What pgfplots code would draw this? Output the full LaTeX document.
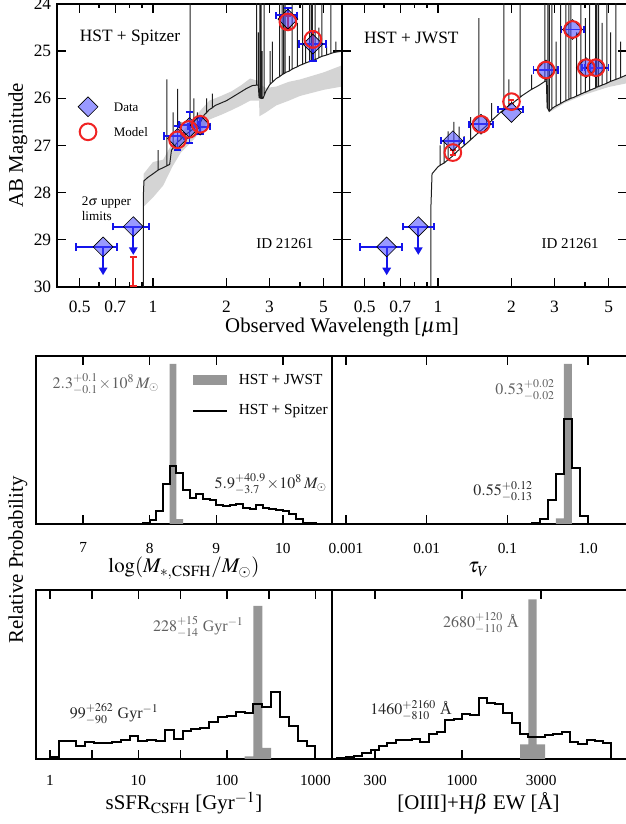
\documentclass[border=0pt]{standalone}
\usepackage{mathptmx}
\usepackage{fontspec}
\setmainfont{Liberation Serif}
\usepackage{pgfplots}
\pgfplotsset{compat=1.18}
\usetikzlibrary{arrows.meta}
\definecolor{specgray}{RGB}{212,212,212}
\definecolor{specline}{RGB}{30,30,30}
\definecolor{histgray}{RGB}{150,150,150}
\definecolor{datablue}{RGB}{20,20,235}
\definecolor{diafill}{RGB}{70,70,255}
\definecolor{modelred}{RGB}{240,35,35}
\definecolor{annogray}{RGB}{95,95,95}
\begin{document}
\begin{tikzpicture}
\useasboundingbox (0,0) rectangle (375pt,494.4pt);
% ================= top left: HST + Spitzer (x = log10 wavelength/um)
\begin{axis}[at={(34.2pt,322.2pt)}, anchor=south west,
  scale only axis, width=171pt, height=169.8pt,
  xmin=-0.3936, xmax=0.7745, ymin=24, ymax=30, y dir=reverse,
  xtick={-0.30103,-0.15490,0,0.30103,0.47712,0.69897}, xticklabels={0.5,0.7,1,2,3,5},
  minor xtick={-0.22185,-0.09691,-0.04576,0.60206},
  ytick={24,25,26,27,28,29,30},
  tick align=inside, major tick length=5.4pt, minor tick length=2.7pt,
  tick style={black, line width=0.8pt}, axis line style={line width=0.9pt},
  tick label style={font=\fontsize{10.4}{12}\selectfont},
  xticklabel style={yshift=-5pt},
  /pgf/number format/assume math mode=true]
\addplot[fill=specgray, draw=none] coordinates {
(-0.0386,27.6)(0,27.35)(0.0414,27.3)(0.0792,26.95)(0.1139,26.75)(0.1614,26.45)(0.2041,26.2)(0.2304,26.05)
(0.2788,25.95)(0.3222,25.85)(0.3617,25.72)(0.3979,25.58)(0.4232,25.62)(0.4346,25.62)(0.4362,25.7)(0.4624,25.78)
(0.5051,25.75)(0.5563,25.65)(0.6021,25.6)(0.6990,25.45)(0.7745,25.3)
(0.7745,25.75)(0.6990,25.82)(0.6021,25.95)(0.5563,26.05)(0.5051,26.15)(0.4624,26.3)(0.4362,26.38)(0.4346,26.05)
(0.3979,26.05)(0.3617,26.15)(0.3222,26.25)(0.2788,26.35)(0.2304,26.45)(0.2041,26.65)(0.1614,26.9)(0.1139,27.15)
(0.0792,27.45)(0.0414,27.85)(0,28.1)(-0.0386,28.3)};
\addplot[specline, line width=0.6pt] coordinates {
(-0.3936,35)(-0.0400,35)(-0.0400,28.1)(-0.0372,27.75)(-0.0223,27.68)(0,27.6)
(0.0212,27.52)(0.0212,27.1)(0.0212,27.52)(0.0414,27.47)(0.0569,27.43)(0.0569,25.6)(0.0569,27.43)
(0.0682,27.4)(0.0755,27.1)(0.0828,27.05)(0.0828,26.3)(0.0828,27.05)(0.0969,26.95)
(0.1004,26.93)(0.1004,25.8)(0.1004,26.93)(0.1139,26.87)(0.1139,26.5)(0.1139,26.87)(0.1303,26.78)
(0.1523,26.7)(0.1523,23.5)(0.1523,26.7)(0.1614,26.66)(0.1673,26.64)(0.1673,26.0)(0.1673,26.64)
(0.1818,26.58)(0.1818,26.3)(0.1818,26.58)(0.1903,26.55)(0.2095,26.35)(0.2201,26.3)(0.2201,26.0)(0.2201,26.3)
(0.2304,26.24)(0.2430,26.2)(0.2430,25.9)(0.2430,26.2)(0.2553,26.15)(0.3010,26.05)(0.3424,25.92)(0.3802,25.8)
(0.4065,25.73)(0.4249,25.72)(0.4249,23.5)(0.4249,25.72)(0.4281,25.72)(0.4314,25.72)(0.4314,24.6)(0.4314,25.72)
(0.4346,25.98)(0.4378,25.99)(0.4378,23.5)(0.4378,25.99)(0.4425,26.0)(0.4425,23.5)(0.4425,26.0)
(0.4472,26.0)(0.4472,25.0)(0.4472,26.0)(0.4502,26.0)(0.4548,25.95)(0.4548,23.5)(0.4548,25.95)
(0.4624,25.85)(0.4771,25.72)(0.4800,25.7)(0.4800,25.0)(0.4800,25.7)(0.4886,25.66)(0.4886,24.8)(0.4886,25.66)
(0.5051,25.58)(0.5185,25.54)(0.5185,23.5)(0.5185,25.54)(0.5289,25.5)(0.5289,23.5)(0.5289,25.5)
(0.5353,25.48)(0.5353,23.5)(0.5353,25.48)(0.5416,25.46)(0.5416,23.5)(0.5416,25.46)(0.5441,25.45)
(0.5587,25.42)(0.5587,25.1)(0.5587,25.42)(0.5705,25.38)(0.5705,23.5)(0.5705,25.38)
(0.5911,25.33)(0.5911,24.4)(0.5911,25.33)(0.6021,25.3)(0.6128,25.28)(0.6128,23.5)(0.6128,25.28)
(0.6253,25.25)(0.6253,24.9)(0.6253,25.25)(0.6415,25.22)(0.6415,23.5)(0.6415,25.22)
(0.6493,25.2)(0.6493,23.5)(0.6493,25.2)(0.6532,25.2)(0.6532,23.5)(0.6532,25.2)
(0.6646,25.18)(0.6646,23.5)(0.6646,25.18)(0.6794,25.14)(0.6794,24.5)(0.6794,25.14)
(0.6920,25.11)(0.6920,23.5)(0.6920,25.11)(0.6990,25.1)(0.7118,25.08)(0.7118,24.9)(0.7118,25.08)
(0.7284,25.05)(0.7284,23.5)(0.7284,25.05)(0.7404,25.03)(0.7497,25.02)(0.7497,24.8)(0.7497,25.02)(0.7745,25.0)};
% upper limits
\addplot[datablue, line width=1.1pt, -{Triangle[width=5pt,length=4.5pt]}] coordinates {(-0.2048,29.15)(-0.2048,29.75)};
\addplot[datablue, line width=1.1pt, -{Triangle[width=5pt,length=4.5pt]}] coordinates {(-0.0809,28.72)(-0.0809,29.32)};
\addplot[modelred, line width=1.1pt, {Bar[width=4pt]}-{Bar[width=4pt]}] coordinates {(-0.0809,29.34)(-0.0809,30.0)};
% data diamonds (incl. legend sample)
\addplot[only marks, mark=square*, mark size=4.2pt, mark options={rotate=45, fill=diafill, fill opacity=0.55, draw=none}]
  coordinates {(-0.2664,26.18)(-0.2048,29.15)(-0.0809,28.72)(0.1004,26.85)(0.1492,26.62)(0.1931,26.57)(0.5527,24.32)(0.6551,24.85)};
% error bars
\addplot[datablue, line width=1.1pt, {Bar[width=4.4pt]}-{Bar[width=4.4pt]}] coordinates {(-0.3188,29.15)(-0.1427,29.15)};
\addplot[datablue, line width=1.1pt, {Bar[width=4.4pt]}-{Bar[width=4.4pt]}] coordinates {(-0.1675,28.72)(-0.0132,28.72)};
\addplot[datablue, line width=1.1pt, {Bar[width=4.4pt]}-{Bar[width=4.4pt]}] coordinates {(0.0414,26.8)(0.1303,26.8)};
\addplot[datablue, line width=1.1pt, {Bar[width=4.4pt]}-{Bar[width=4.4pt]}] coordinates {(0.1004,26.56)(0.1004,27.12)};
\addplot[datablue, line width=1.1pt, {Bar[width=4.4pt]}-{Bar[width=4.4pt]}] coordinates {(0.1038,26.56)(0.1875,26.56)};
\addplot[datablue, line width=1.1pt, {Bar[width=4.4pt]}-{Bar[width=4.4pt]}] coordinates {(0.1492,26.27)(0.1492,26.97)};
\addplot[datablue, line width=1.1pt, {Bar[width=4.4pt]}-{Bar[width=4.4pt]}] coordinates {(0.1399,26.6)(0.2380,26.6)};
\addplot[datablue, line width=1.1pt, {Bar[width=4.4pt]}-{Bar[width=4.4pt]}] coordinates {(0.1931,26.4)(0.1931,26.78)};
\addplot[datablue, line width=1.1pt, {Bar[width=4.4pt]}-{Bar[width=4.4pt]}] coordinates {(0.4997,24.24)(0.5944,24.24)};
\addplot[datablue, line width=1.1pt, {Bar[width=4.4pt]}-{Bar[width=4.4pt]}] coordinates {(0.5527,24.07)(0.5527,24.54)};
\addplot[datablue, line width=1.1pt, {Bar[width=4.4pt]}-{Bar[width=4.4pt]}] coordinates {(0.5944,24.85)(0.7118,24.85)};
\addplot[datablue, line width=1.1pt, {Bar[width=4.4pt]}-{Bar[width=4.4pt]}] coordinates {(0.6551,24.58)(0.6551,25.23)};
\addplot[modelred, line width=1.1pt, {Bar[width=3.6pt]}-{Bar[width=3.6pt]}] coordinates {(0.5527,24.23)(0.5527,24.53)};
\addplot[modelred, line width=1.1pt, {Bar[width=3.6pt]}-{Bar[width=3.6pt]}] coordinates {(0.6551,24.55)(0.6551,24.95)};
% model circles (incl. legend sample)
\addplot[only marks, mark=o, mark size=5pt, mark options={draw=modelred, line width=1.2pt}]
  coordinates {(-0.2664,26.71)(0.1004,26.88)(0.1461,26.66)(0.1931,26.55)(0.5527,24.38)(0.6551,24.75)};
\node[font=\fontsize{7.8}{9.5}\selectfont, anchor=west] at (axis cs:-0.1844,26.18) {Data};
\node[font=\fontsize{7.8}{9.5}\selectfont, anchor=west] at (axis cs:-0.1844,26.71) {Model};
\node[font=\fontsize{10.4}{12}\selectfont] at (axis cs:-0.0942,24.71) {HST + Spitzer};
\node[font=\fontsize{7.9}{9.5}\selectfont, anchor=west, align=left] at (axis cs:-0.316,28.34) {2$\sigma$ upper\\limits};
\node[font=\fontsize{9}{11}\selectfont] at (axis cs:0.5403,29.08) {ID 21261};
\end{axis}
% ================= top right: HST + JWST
\begin{axis}[at={(205.2pt,322.2pt)}, anchor=south west,
  scale only axis, width=171pt, height=169.8pt,
  xmin=-0.3936, xmax=0.7745, ymin=24, ymax=30, y dir=reverse,
  xtick={-0.30103,-0.15490,0,0.30103,0.47712,0.69897}, xticklabels={0.5,0.7,1,2,3,5},
  minor xtick={-0.22185,-0.09691,-0.04576,0.60206},
  ytick={24,25,26,27,28,29,30}, yticklabels={},
  tick align=inside, major tick length=5.4pt, minor tick length=2.7pt,
  tick style={black, line width=0.8pt}, axis line style={line width=0.9pt},
  tick label style={font=\fontsize{10.4}{12}\selectfont},
  xticklabel style={yshift=-5pt},
  /pgf/number format/assume math mode=true]
\addplot[fill=specgray, draw=none] coordinates {
(0.4548,26.27)(0.5185,26.06)(0.6021,25.87)(0.6990,25.66)(0.7745,25.5)(0.7745,25.68)(0.6990,25.76)(0.6021,25.92)(0.5185,26.1)(0.4548,26.3)};
\addplot[specline, line width=0.6pt] coordinates {
(-0.3936,35)(-0.0292,35)(-0.0292,28.3)(-0.0246,27.6)(0,27.45)
(0.0086,27.42)(0.0086,27.0)(0.0086,27.42)(0.0212,27.38)(0.0253,27.37)(0.0253,26.9)(0.0253,27.37)
(0.0414,27.3)(0.0414,26.7)(0.0414,27.3)(0.0607,27.22)(0.0645,27.2)(0.0645,26.5)(0.0645,27.2)(0.0792,27.12)
(0.0864,27.09)(0.0864,26.6)(0.0864,27.09)(0.1072,27.0)(0.1072,26.8)(0.1072,27.0)(0.1139,26.97)
(0.1335,26.88)(0.1335,26.4)(0.1335,26.88)(0.1461,26.82)(0.1673,26.72)(0.1673,24.3)(0.1673,26.72)
(0.1761,26.68)(0.1987,26.58)(0.1987,26.4)(0.1987,26.58)(0.2041,26.55)(0.2201,26.47)(0.2201,26.1)(0.2201,26.47)
(0.2304,26.42)(0.2553,26.3)(0.2695,26.24)(0.2695,23.5)(0.2695,26.24)(0.2788,26.2)(0.2900,26.16)(0.2900,25.6)(0.2900,26.16)
(0.3010,26.12)(0.3365,25.98)(0.3365,23.5)(0.3365,25.98)(0.3424,25.95)(0.3802,25.82)(0.3838,25.81)(0.3838,25.5)(0.3838,25.81)
(0.4150,25.72)(0.4378,25.64)(0.4378,24.0)(0.4378,25.64)(0.4440,25.63)(0.4472,26.2)
(0.4502,26.22)(0.4502,23.5)(0.4502,26.22)(0.4548,26.27)(0.4564,26.27)(0.4564,23.5)(0.4564,26.27)
(0.4669,26.22)(0.4669,23.5)(0.4669,26.22)(0.4771,26.18)(0.4843,26.16)(0.4843,24.8)(0.4843,26.16)
(0.5024,26.11)(0.5024,23.5)(0.5024,26.11)(0.5185,26.06)(0.5237,26.05)(0.5237,23.5)(0.5237,26.05)
(0.5366,26.02)(0.5366,23.5)(0.5366,26.02)(0.5441,26.0)(0.5441,23.5)(0.5441,26.0)(0.5563,25.98)
(0.5682,25.95)(0.5682,24.6)(0.5682,25.95)(0.5855,25.91)(0.5855,23.5)(0.5855,25.91)(0.6021,25.87)
(0.6042,25.87)(0.6042,24.3)(0.6042,25.87)(0.6212,25.83)(0.6212,23.5)(0.6212,25.83)
(0.6454,25.78)(0.6454,23.5)(0.6454,25.78)(0.6513,25.76)(0.6513,23.5)(0.6513,25.76)(0.6532,25.76)
(0.6580,25.75)(0.6580,23.5)(0.6580,25.75)(0.6721,25.72)(0.6721,24.4)(0.6721,25.72)
(0.6920,25.68)(0.6920,23.5)(0.6920,25.68)(0.6990,25.66)(0.7076,25.64)(0.7076,24.6)(0.7076,25.64)
(0.7284,25.6)(0.7284,23.5)(0.7284,25.6)(0.7482,25.56)(0.7482,24.8)(0.7482,25.56)(0.7745,25.5)};
\addplot[datablue, line width=1.1pt, -{Triangle[width=5pt,length=4.5pt]}] coordinates {(-0.2104,29.15)(-0.2104,29.75)};
\addplot[datablue, line width=1.1pt, -{Triangle[width=5pt,length=4.5pt]}] coordinates {(-0.0809,28.72)(-0.0809,29.32)};
\addplot[only marks, mark=square*, mark size=4.2pt, mark options={rotate=45, fill=diafill, fill opacity=0.55, draw=none}]
  coordinates {(-0.2104,29.15)(-0.0809,28.72)(0.0607,26.9)(0.1761,26.55)(0.3010,26.3)(0.4425,25.4)(0.5514,24.54)(0.6075,25.35)(0.6474,25.35)};
\addplot[datablue, line width=1.1pt, {Bar[width=4.4pt]}-{Bar[width=4.4pt]}] coordinates {(-0.3224,29.15)(-0.1433,29.15)};
\addplot[datablue, line width=1.1pt, {Bar[width=4.4pt]}-{Bar[width=4.4pt]}] coordinates {(-0.1487,28.72)(-0.0132,28.72)};
\addplot[datablue, line width=1.1pt, {Bar[width=4.4pt]}-{Bar[width=4.4pt]}] coordinates {(0.0086,26.9)(0.1106,26.9)};
\addplot[datablue, line width=1.1pt, {Bar[width=4.4pt]}-{Bar[width=4.4pt]}] coordinates {(0.1239,26.55)(0.2279,26.55)};
\addplot[datablue, line width=1.1pt, {Bar[width=4.4pt]}-{Bar[width=4.4pt]}] coordinates {(0.2430,26.23)(0.3522,26.23)};
\addplot[datablue, line width=1.1pt, {Bar[width=4.4pt]}-{Bar[width=4.4pt]}] coordinates {(0.3874,25.4)(0.4955,25.4)};
\addplot[datablue, line width=1.1pt, {Bar[width=4.4pt]}-{Bar[width=4.4pt]}] coordinates {(0.5024,24.54)(0.6021,24.54)};
\addplot[datablue, line width=1.1pt, {Bar[width=4.4pt]}-{Bar[width=4.4pt]}] coordinates {(0.5866,25.35)(0.6284,25.35)};
\addplot[datablue, line width=1.1pt, {Bar[width=4.4pt]}-{Bar[width=4.4pt]}] coordinates {(0.5999,25.35)(0.7024,25.35)};
\addplot[modelred, line width=1.1pt, {Bar[width=3.6pt]}-{Bar[width=3.6pt]}] coordinates {(0.0607,27.08)(0.0607,27.22)};
\addplot[modelred, line width=1.1pt, {Bar[width=3.6pt]}-{Bar[width=3.6pt]}] coordinates {(0.3010,26.01)(0.3010,26.13)};
\addplot[only marks, mark=o, mark size=5pt, mark options={draw=modelred, line width=1.2pt}]
  coordinates {(0.0607,27.15)(0.1761,26.55)(0.3010,26.07)(0.4425,25.4)(0.5514,24.54)(0.6075,25.35)(0.6474,25.35)};
\node[font=\fontsize{10.4}{12}\selectfont] at (axis cs:-0.1096,24.71) {HST + JWST};
\node[font=\fontsize{9}{11}\selectfont] at (axis cs:0.5416,29.08) {ID 21261};
\end{axis}
\node[font=\fontsize{12.5}{15}\selectfont, anchor=base] at (205.2pt,294.6pt) {Observed Wavelength [$\mu$m]};
% ================= middle left: stellar mass
\begin{axis}[at={(21.6pt,180pt)}, anchor=south west,
  scale only axis, width=177.6pt, height=100.8pt,
  xmin=6.29, xmax=10.74, ymin=0, ymax=1.05, xtick={7,8,9,10}, ytick=\empty,
  tick align=inside, major tick length=5.4pt,
  tick style={black, line width=0.9pt}, axis line style={line width=1.2pt},
  tick label style={font=\fontsize{9.2}{11}\selectfont},
  xticklabel style={yshift=-7.8pt},
  /pgf/number format/assume math mode=true]
\addplot[fill=histgray, draw=none] coordinates {(8.651,0.866)(9.162,0.866)(9.162,0.934)(8.651,0.934)};
\addplot[black, line width=1.2pt] coordinates {(8.651,0.706)(9.162,0.706)};
\addplot[const plot, fill=histgray, draw=none] coordinates {(8.3,0)(8.3,1.0)(8.4,0.03)(8.5,0)};
\addplot[const plot, black, line width=1.2pt] coordinates {
(7.9,0)(7.9,0.005)(8.0,0.028)(8.1,0.081)(8.2,0.253)(8.3,0.363)(8.4,0.316)(8.5,0.211)(8.6,0.165)
(8.7,0.19)(8.8,0.159)(8.9,0.148)(9.0,0.117)(9.1,0.113)(9.2,0.117)(9.3,0.128)(9.4,0.100)
(9.5,0.096)(9.6,0.117)(9.7,0.100)(9.8,0.092)(9.9,0.086)(10.0,0.079)(10.1,0.061)(10.2,0.034)
(10.3,0.005)(10.4,0.005)(10.5,0)};
\node[font=\fontsize{9.2}{11}\selectfont, anchor=west] at (axis cs:9.252,0.900) {HST + JWST};
\node[font=\fontsize{9.2}{11}\selectfont, anchor=west] at (axis cs:9.252,0.706) {HST + Spitzer};
\node[text=annogray, font=\fontsize{9.6}{11}\selectfont] at (axis cs:7.34,0.875) {$2.3^{+0.1}_{-0.1}\!\times\!10^8\,M_\odot$};
\node[text=black!85, font=\fontsize{9.6}{11}\selectfont] at (axis cs:9.82,0.249) {$5.9^{+40.9}_{-3.7}\!\times\!10^8\,M_\odot$};
\end{axis}
\node[font=\fontsize{12.5}{15}\selectfont, anchor=base] at (110.4pt,150.6pt) {$\log(M_{*,\mathrm{CSFH}}/M_\odot)$};
% ================= middle right: tau_V (x = log10 tau)
\begin{axis}[at={(199.2pt,180pt)}, anchor=south west,
  scale only axis, width=177.6pt, height=100.8pt,
  xmin=-3.173, xmax=0.494, ymin=0, ymax=1.05, xtick={-3,-2,-1,0}, xticklabels={0.001,0.01,0.1,1.0}, ytick=\empty,
  tick align=inside, major tick length=5.4pt,
  tick style={black, line width=0.9pt}, axis line style={line width=1.2pt},
  tick label style={font=\fontsize{9.2}{11}\selectfont},
  xticklabel style={yshift=-7.8pt},
  /pgf/number format/assume math mode=true]
\addplot[const plot, fill=histgray, draw=none] coordinates {(-0.4,0)(-0.4,0.035)(-0.3,1.0)(-0.2,0)};
\addplot[const plot, black, line width=1.2pt] coordinates {
(-0.7,0)(-0.7,0.006)(-0.6,0.031)(-0.5,0.151)(-0.4,0.314)(-0.3,0.655)(-0.2,0.352)(-0.1,0.048)(0.0,0)};
\node[text=annogray, font=\fontsize{9.6}{11}\selectfont] at (axis cs:-0.78,0.837) {$0.53^{+0.02}_{-0.02}$};
\node[text=black!85, font=\fontsize{9.6}{11}\selectfont] at (axis cs:-1.052,0.203) {$0.55^{+0.12}_{-0.13}$};
\end{axis}
\node[font=\fontsize{12.5}{15}\selectfont, anchor=base] at (287.1pt,150.6pt) {$\tau_V$};
% ================= bottom left: sSFR (x = log10)
\begin{axis}[at={(21.6pt,39pt)}, anchor=south west,
  scale only axis, width=177.6pt, height=101.1pt,
  xmin=-0.157, xmax=3.188, ymin=0, ymax=1.10, xtick={0,0.4771,1,1.4771,2,2.4771,3},
  xticklabels={1,,10,,100,,1000}, ytick=\empty,
  tick align=inside, major tick length=5.4pt,
  tick style={black, line width=0.9pt}, axis line style={line width=1.2pt},
  tick label style={font=\fontsize{9.2}{11}\selectfont},
  xticklabel style={yshift=-6.5pt},
  /pgf/number format/assume math mode=true]
\addplot[const plot, fill=histgray, draw=none] coordinates {(2.2,0)(2.2,0.017)(2.3,1.0)(2.4,0.072)(2.5,0)};
\addplot[const plot, black, line width=1.2pt] coordinates {
(0.0,0)(0.0,0.013)(0.1,0.115)(0.2,0.119)(0.3,0.082)(0.4,0.111)(0.5,0.104)(0.6,0.104)(0.7,0.109)
(0.8,0.126)(0.9,0.148)(1.0,0.119)(1.1,0.126)(1.2,0.12)(1.3,0.191)(1.4,0.13)(1.5,0.18)(1.6,0.196)
(1.7,0.202)(1.8,0.239)(1.9,0.274)(2.0,0.282)(2.1,0.304)(2.2,0.3)(2.3,0.359)(2.4,0.339)(2.5,0.435)
(2.6,0.272)(2.7,0.213)(2.8,0.119)(2.9,0.082)(3.0,0)};
\node[text=annogray, font=\fontsize{9.6}{11}\selectfont] at (axis cs:1.678,0.863) {$228^{+15}_{-14}$ Gyr$^{-1}$};
\node[text=black!85, font=\fontsize{9.6}{11}\selectfont] at (axis cs:0.727,0.295) {$99^{+262}_{-90}$ Gyr$^{-1}$};
\end{axis}
\node[font=\fontsize{12.5}{15}\selectfont, anchor=base] at (110.4pt,8.4pt) {sSFR$_{\mathrm{CSFH}}$ [Gyr$^{-1}$]};
% ================= bottom right: EW (x = log10)
\begin{axis}[at={(199.2pt,39pt)}, anchor=south west,
  scale only axis, width=177.6pt, height=101.1pt,
  xmin=2.217, xmax=4.0, ymin=0, ymax=1.055, xtick={2.4771,3,3.4771}, xticklabels={300,1000,3000}, ytick=\empty,
  tick align=inside, major tick length=5.4pt,
  tick style={black, line width=0.9pt}, axis line style={line width=1.2pt},
  tick label style={font=\fontsize{9.2}{11}\selectfont},
  xticklabel style={yshift=-6.5pt},
  /pgf/number format/assume math mode=true]
\addplot[const plot, fill=histgray, draw=none] coordinates {(3.35,0)(3.35,0.092)(3.4,1.0)(3.45,0.092)(3.5,0)};
\addplot[const plot, black, line width=1.2pt] coordinates {
(2.25,0)(2.25,0.006)(2.3,0.013)(2.35,0.021)(2.4,0.038)(2.45,0.054)(2.5,0.08)(2.55,0.103)(2.6,0.121)
(2.65,0.117)(2.7,0.128)(2.75,0.107)(2.8,0.159)(2.85,0.17)(2.9,0.242)(2.95,0.253)(3.0,0.284)
(3.05,0.278)(3.1,0.382)(3.15,0.351)(3.2,0.342)(3.25,0.288)(3.3,0.225)(3.35,0.155)(3.4,0.138)
(3.45,0.138)(3.5,0.148)(3.55,0.159)(3.6,0.17)(3.65,0.107)(3.7,0.096)(3.75,0.121)(3.8,0.111)
(3.85,0.1)(3.9,0)};
\node[text=annogray, font=\fontsize{9.6}{11}\selectfont] at (axis cs:3.114,0.85) {$2680^{+120}_{-110}$ Å};
\node[text=black!85, font=\fontsize{9.6}{11}\selectfont] at (axis cs:2.693,0.305) {$1460^{+2160}_{-810}$ Å};
\end{axis}
\node[font=\fontsize{12.5}{15}\selectfont, anchor=base] at (287.1pt,8.4pt) {[OIII]+H$\beta$ EW [Å]};
\node[font=\fontsize{12.5}{15}\selectfont, rotate=90] at (10.8pt,158.4pt) {Relative Probability};
\node[font=\fontsize{12.5}{15}\selectfont, rotate=90] at (10.8pt,407.4pt) {AB Magnitude};
\end{tikzpicture}
\end{document}
